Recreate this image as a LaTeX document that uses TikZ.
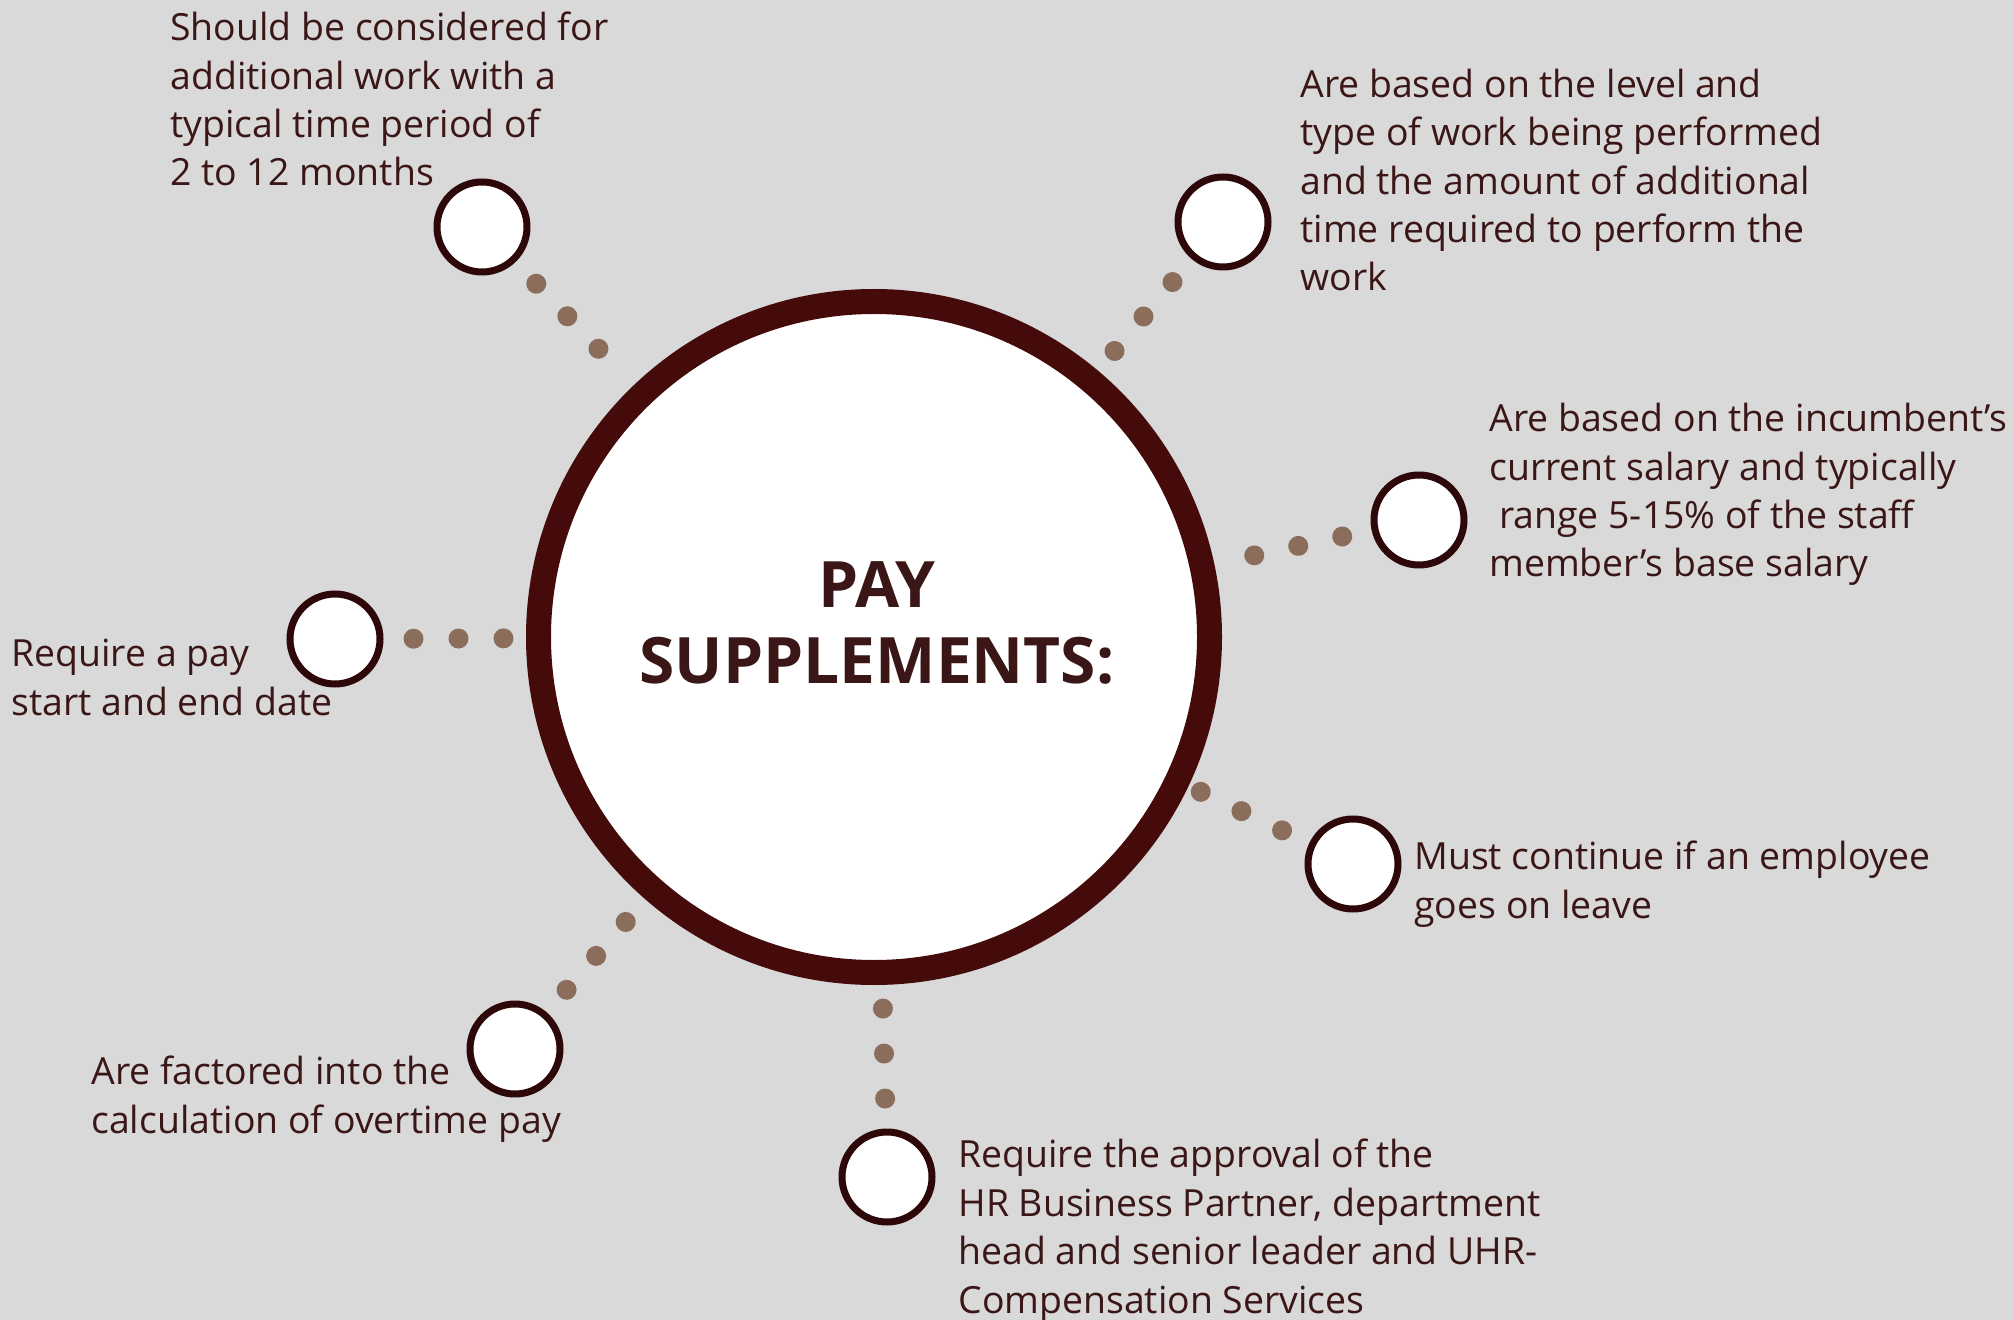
\documentclass[tikz,border=0pt]{standalone}
\usepackage{fontspec}
\setmainfont{Open Sans}
\usetikzlibrary{decorations.markings}
\definecolor{PaperGrey}{HTML}{D9D9D9}
\definecolor{HubMaroon}{HTML}{450B0B}
\definecolor{SpokeRim}{HTML}{2E0808}
\definecolor{InkBrown}{HTML}{3A1616}
\definecolor{DotBrown}{HTML}{8A6E5B}
\newcommand{\paydot}{\fill[DotBrown] (0,0) circle (5pt);}

\begin{document}
\begin{tikzpicture}[x=0.5pt,y=-0.5pt,font=\fontsize{18.7}{24.2}\selectfont]
\tikzset{hub/.style={circle,draw=HubMaroon,line width=12.5pt,fill=white,minimum size=335.5pt,inner sep=0pt},
         spoke/.style={circle,draw=SpokeRim,line width=3.5pt,fill=white,minimum size=45pt,inner sep=0pt},
         note/.style={anchor=base west,align=left,inner sep=0pt,text=InkBrown},
         dots/.style={decorate,decoration={markings,
           mark=at position 15pt with {\paydot},
           mark=at position 37.5pt with {\paydot},
           mark=at position 60pt with {\paydot}}}}
\useasboundingbox (0,0) rectangle (2013,1320);
\fill[PaperGrey] (0,0) rectangle (2013,1320);
% centre and the seven spokes
\node[hub] (hub) at (874,637) {};
\node[anchor=base,align=center,inner sep=0pt,text=InkBrown,font=\bfseries\fontsize{32}{38}\selectfont] (title) at (877,683) {PAY\\SUPPLEMENTS:};
\node[spoke] (s1) at (482,227) {};
\node[spoke] (s2) at (1223,222) {};
\node[spoke] (s3) at (1419,520) {};
\node[spoke] (s4) at (1353,864) {};
\node[spoke] (s5) at (887,1177) {};
\node[spoke] (s6) at (515,1049) {};
\node[spoke] (s7) at (335,639) {};
\foreach \s in {s1,s2,s3,s4,s5,s6,s7}
  \path[dots] (\s) -- (hub);
% texts (anchored on the baseline of their last line)
\node[note] (t1) at (170,186) {Should be considered for\\additional work with a\\typical time period of\\2 to 12 months};
\node[note] (t2) at (1300,291) {Are based on the level and\\type of work being performed\\and the amount of additional\\time required to perform the\\work};
\node[note] (t3) at (1489,577) {Are based on the incumbent’s\\current salary and typically\\\ range 5-15\% of the staff\\member’s base salary};
\node[note] (t4) at (1414,918) {Must continue if an employee\\goes on leave};
\node[note] (t5) at (958,1313) {Require the approval of the\\HR Business Partner, department\\head and senior leader and UHR-\\Compensation Services};
\node[note] (t6) at (91,1133) {Are factored into the\\calculation of overtime pay};
\node[note] (t7) at (11,715) {Require a pay\\start and end date};
\end{tikzpicture}
\end{document}
